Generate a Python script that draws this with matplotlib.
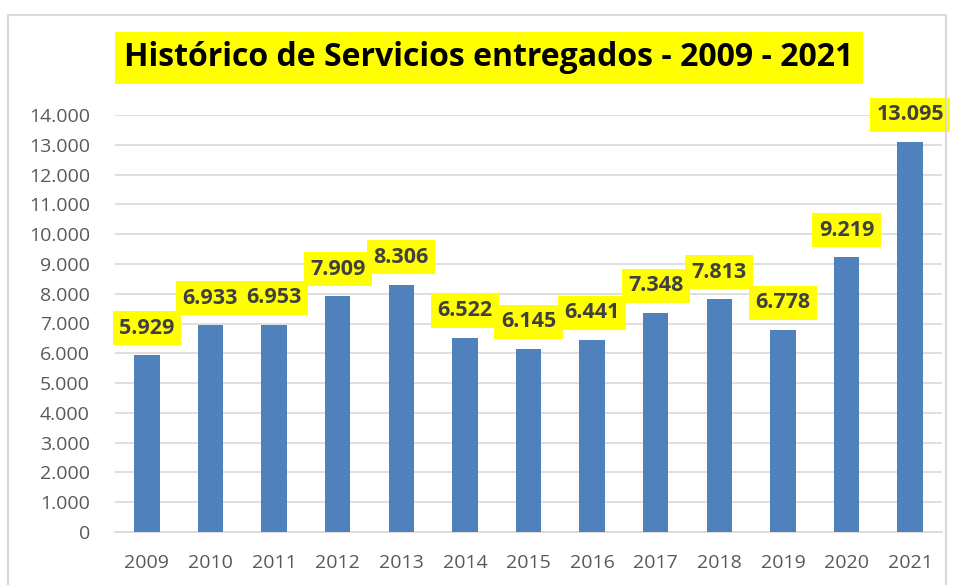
import matplotlib
matplotlib.use("Agg")
import matplotlib.pyplot as plt
from matplotlib.patches import Rectangle
from matplotlib.ticker import FuncFormatter

years = ["2009", "2010", "2011", "2012", "2013", "2014", "2015",
         "2016", "2017", "2018", "2019", "2020", "2021"]
services = [5929, 6933, 6953, 7909, 8306, 6522, 6145,
            6441, 7348, 7813, 6778, 9219, 13095]
title = "Histórico de Servicios entregados - 2009 - 2021"

W, H = 956, 585
fig = plt.figure(figsize=(W / 100, H / 100), dpi=100)
plt.rcParams['font.family'] = ['Open Sans', 'DejaVu Sans']

# chart border
fig.patches.append(Rectangle((8 / W, -0.05), (946 - 8) / W, 1 - 15 / H + 0.05,
                             transform=fig.transFigure, fill=False,
                             edgecolor='#d9d9d9', linewidth=1.5))

left, right, bottom, top = 115, 942, 532, 115
ax = fig.add_axes([left / W, 1 - bottom / H, (right - left) / W, (bottom - top) / H])

def fmt(v):
    return f"{int(v):,}".replace(",", ".")

x = list(range(len(years)))
ax.bar(x, services, width=0.4, color='#4f81bd', zorder=3)
ax.set_xlim(-0.5, len(years) - 0.5)
ax.set_ylim(0, 14000)
ax.set_yticks(range(0, 14001, 1000))
ax.yaxis.set_major_formatter(FuncFormatter(lambda v, p: fmt(v)))
ax.set_xticks(x)
ax.set_xticklabels(years)
ax.grid(axis='y', color='#d9d9d9', linewidth=1.2, zorder=0)
for s in ['top', 'right', 'left']:
    ax.spines[s].set_visible(False)
ax.spines['bottom'].set_color('#d9d9d9')
ax.spines['bottom'].set_linewidth(1.2)
ax.tick_params(axis='both', length=0, labelsize=14, labelcolor='#595959')
ax.tick_params(axis='y', pad=18)
ax.tick_params(axis='x', pad=16)

for xi, v in zip(x, services):
    ax.annotate(fmt(v), (xi, v), xytext=(0, 12), textcoords='offset points',
                ha='center', va='bottom', fontsize=15.5, fontweight='bold',
                color='#404040',
                bbox=dict(boxstyle='square,pad=0.3', fc='#ffff00', ec='none'),
                zorder=5, annotation_clip=False)

fig.text(489 / W, 1 - 58 / H, title, ha='center', va='center',
         fontsize=23, fontweight='bold', color='black',
         bbox=dict(boxstyle='square,pad=0.3', fc='#ffff00', ec='none'))

fig.savefig("out.png", dpi=100)
